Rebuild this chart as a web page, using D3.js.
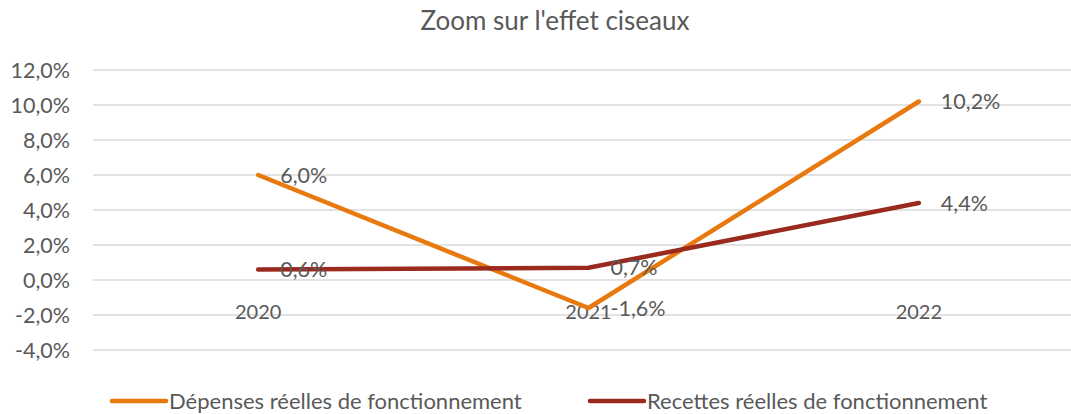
<!DOCTYPE html>
<html>
<head>
<meta charset="utf-8">
<script src="https://cdn.jsdelivr.net/npm/d3@7"></script>
<style>
  body { margin: 0; background: #fff; }
  text { font-family: Lato, "Open Sans", sans-serif; fill: #595959; }
</style>
</head>
<body>
<div id="chart"></div>
<script>
// data
const years = ["2020", "2021", "2022"];
const depenses = [6.0, -1.6, 10.2];
const recettes = [0.6, 0.7, 4.4];
const seriesNames = ["Dépenses réelles de fonctionnement", "Recettes réelles de fonctionnement"];
const yTicks = [-4, -2, 0, 2, 4, 6, 8, 10, 12];

const width = 1071, height = 414;
const colors = ["#E8790E", "#9B2A1E"];
// french decimal comma, plain hyphen for minus
const fmt = v => d3.format(".1f")(v).replace(".", ",").replace("\u2212", "-") + "%";

const svg = d3.select("#chart").append("svg")
  .attr("width", width)
  .attr("height", height);

// plot area runs off the right edge like in the original
const x = d3.scaleBand().domain(years).range([93, 1084]);
const y = d3.scaleLinear().domain([-4, 12]).range([350, 70]);

svg.append("text")
  .attr("x", 555)
  .attr("y", 30)
  .attr("text-anchor", "middle")
  .style("font-size", "26px")
  .text("Zoom sur l'effet ciseaux");

// gridlines + y labels
const yAxis = svg.append("g").attr("class", "y-axis");
yAxis.selectAll("line")
  .data(yTicks)
  .enter()
  .append("line")
  .attr("x1", 93)
  .attr("x2", width)
  .attr("y1", d => y(d))
  .attr("y2", d => y(d))
  .attr("stroke", "#d9d9d9")
  .attr("stroke-width", 1.5);

yAxis.selectAll("text")
  .data(yTicks)
  .enter()
  .append("text")
  .attr("x", 70)
  .attr("y", d => y(d))
  .attr("dy", "0.35em")
  .attr("text-anchor", "end")
  .style("font-size", "21.5px")
  .text(d => fmt(d));

// category labels sit under the 0 line
svg.append("g")
  .selectAll("text")
  .data(years)
  .enter()
  .append("text")
  .attr("x", d => x(d) + x.bandwidth() / 2)
  .attr("y", y(0) + 32)
  .attr("dy", "0.35em")
  .attr("text-anchor", "middle")
  .style("font-size", "20px")
  .text(d => d);

const line = d3.line()
  .x((d, i) => x(years[i]) + x.bandwidth() / 2)
  .y(d => y(d));

const allSeries = [depenses, recettes];

allSeries.forEach(function(vals, k) {
  svg.append("path")
    .datum(vals)
    .attr("d", line)
    .attr("fill", "none")
    .attr("stroke", colors[k])
    .attr("stroke-width", 4.5)
    .attr("stroke-linecap", "round")
    .attr("stroke-linejoin", "round");
});

allSeries.forEach(function(vals, k) {
  svg.append("g")
    .selectAll("text")
    .data(vals)
    .enter()
    .append("text")
    .attr("x", (d, i) => x(years[i]) + x.bandwidth() / 2 + 22)
    .attr("y", d => y(d))
    .attr("dy", "0.35em")
    .style("font-size", "21.5px")
    .text(d => fmt(d));
});

// legend
const legendX = [112, 590];
const legend = svg.append("g")
  .selectAll("g")
  .data(seriesNames)
  .enter()
  .append("g")
  .attr("transform", (d, i) => `translate(${legendX[i]}, 401)`);

legend.append("line")
  .attr("x1", 0)
  .attr("x2", 54)
  .attr("stroke", (d, i) => colors[i])
  .attr("stroke-width", 4.5)
  .attr("stroke-linecap", "round");

legend.append("text")
  .attr("x", 57)
  .attr("dy", "0.35em")
  .style("font-size", "22px")
  .text(d => d);
</script>
</body>
</html>
